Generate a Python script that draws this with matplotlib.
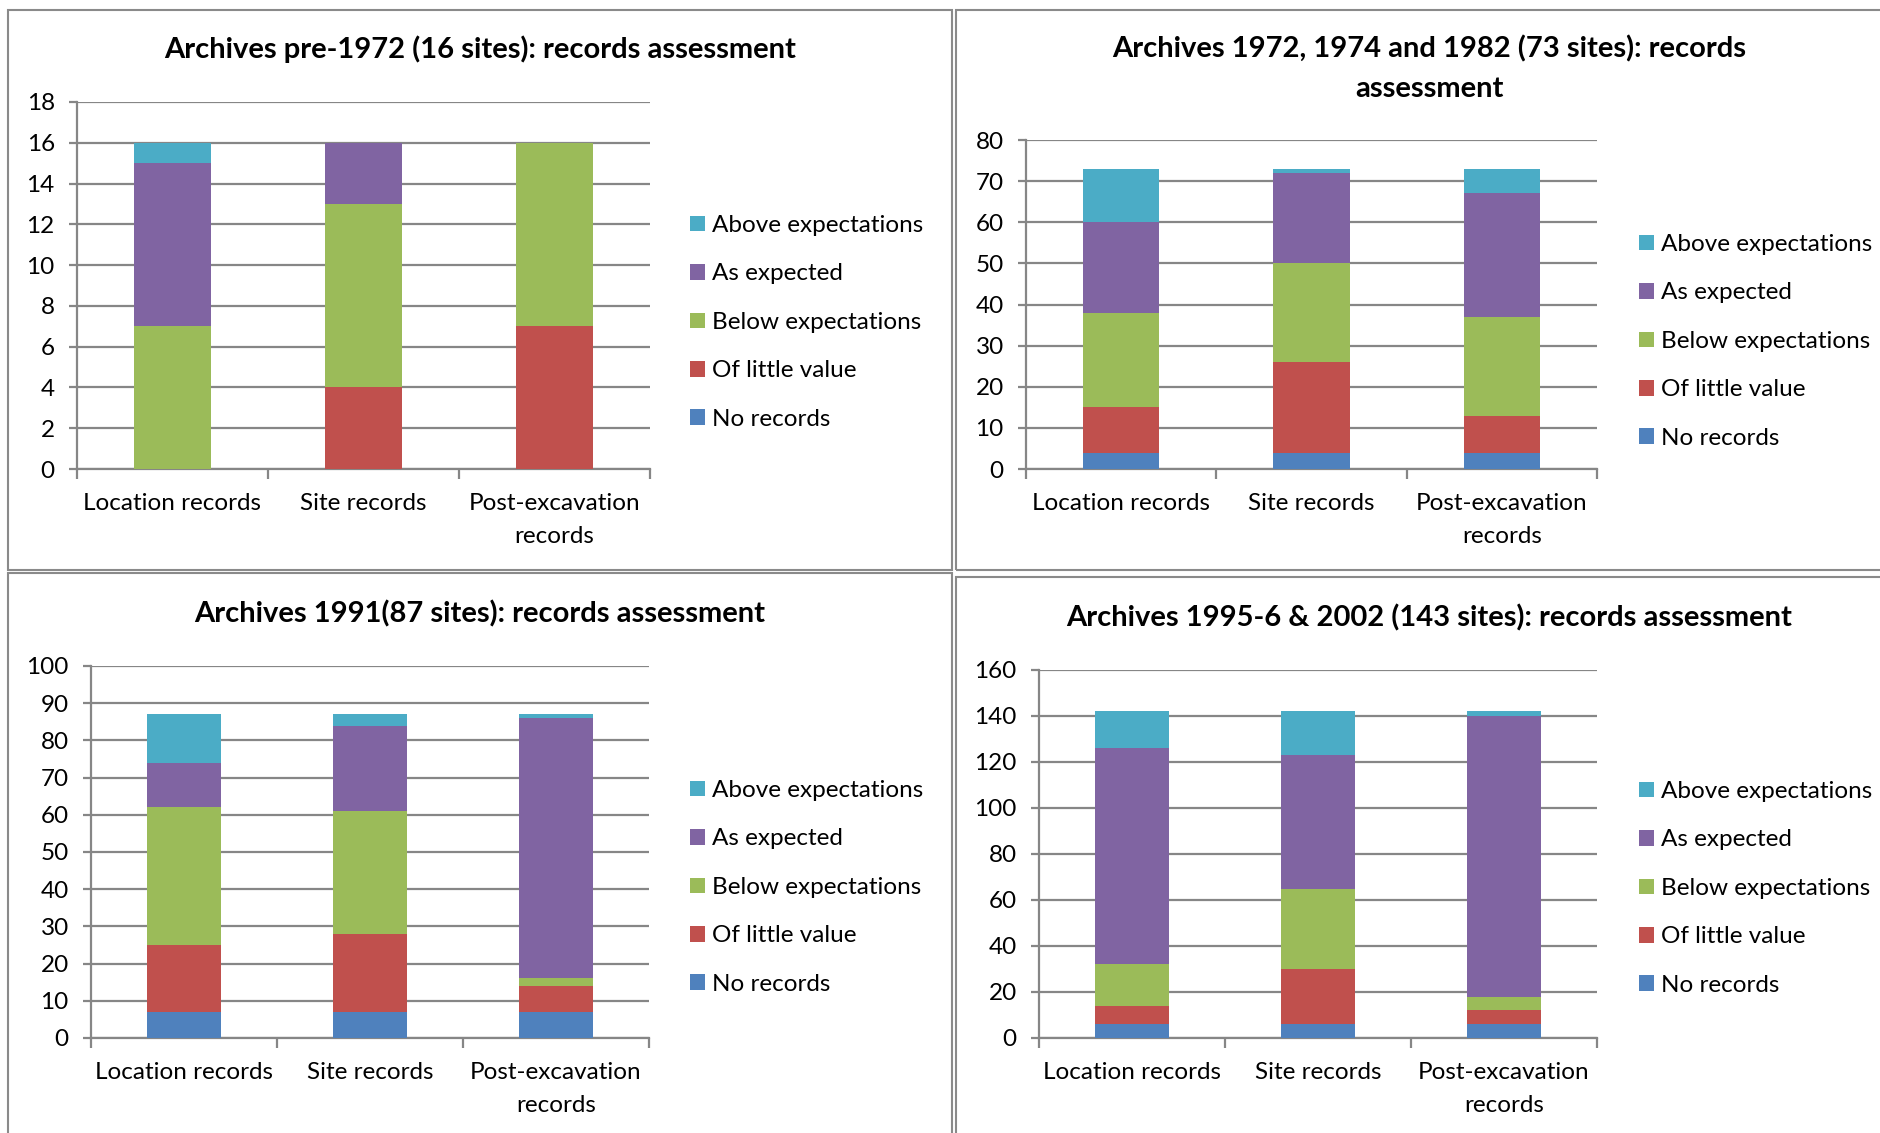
import numpy as np
import matplotlib.pyplot as plt
from matplotlib.patches import Patch, Rectangle

plt.rcParams['font.family'] = ['Lato', 'DejaVu Sans']

W, H = 1881, 1133

categories = ["Location records", "Site records", "Post-excavation\nrecords"]
levels = ["No records", "Of little value", "Below expectations", "As expected", "Above expectations"]
level_colors = ["#4F81BD", "#C0504D", "#9BBB59", "#8064A2", "#4BACC6"]

# rows follow `levels`, columns follow `categories`
pre1972 = [[0, 0, 0], [0, 4, 7], [7, 9, 9], [8, 3, 0], [1, 0, 0]]
arch1972_82 = [[4, 4, 4], [11, 22, 9], [23, 24, 24], [22, 22, 30], [13, 1, 6]]
arch1991 = [[7, 7, 7], [18, 21, 7], [37, 33, 2], [12, 23, 70], [13, 3, 1]]
arch1995_2002 = [[6, 6, 6], [8, 24, 6], [18, 35, 6], [94, 58, 122], [16, 19, 2]]

titles = [
    "Archives pre-1972 (16 sites): records assessment",
    "Archives 1972, 1974 and 1982 (73 sites): records\nassessment",
    "Archives 1991(87 sites): records assessment",
    "Archives 1995-6 & 2002 (143 sites): records assessment",
]
y_max = [18, 80, 100, 160]
y_step = [2, 10, 10, 20]

# pixel layout: axes box (left, right, top, bottom), title centre, legend top-left
axes_px = [(77, 650, 102, 469), (1026, 1597, 140, 469), (91, 649, 666, 1038), (1039, 1597, 670, 1038)]
title_px = [(480, 49), (1429, 69), (480, 614), (1429, 618)]
legend_px = [(690, 215), (1639, 234), (690, 780), (1639, 781)]
panel_px = [(8, 10, 944, 560), (956, 10, 940, 560), (8, 573, 944, 575), (956, 577, 940, 575)]

grid_col = "#868686"
fs = 17.5

fig = plt.figure(figsize=(W / 100, H / 100), dpi=100)

for (x, y, w, h) in panel_px:
    fig.patches.append(Rectangle((x / W, 1 - (y + h) / H), w / W, h / H, transform=fig.transFigure,
                                 fill=False, edgecolor="#8a8a8a", lw=1.5))

datasets = [pre1972, arch1972_82, arch1991, arch1995_2002]
for i, data in enumerate(datasets):
    l, r, t, b = axes_px[i]
    ax = fig.add_axes([l / W, 1 - b / H, (r - l) / W, (b - t) / H])
    x = np.arange(len(categories))
    bottom = np.zeros(len(categories))
    for lev, col, vals in zip(levels, level_colors, data):
        ax.bar(x, vals, width=0.4, bottom=bottom, color=col, label=lev, zorder=3)
        bottom += np.array(vals)

    ax.set_xlim(-0.5, 2.5)
    ax.set_ylim(0, y_max[i])
    ax.set_yticks(np.arange(0, y_max[i] + 1, y_step[i]))
    ax.yaxis.grid(True, color=grid_col, lw=1.6, zorder=0)
    ax.set_axisbelow(True)
    for s in ["top", "right"]:
        ax.spines[s].set_visible(False)
    for s in ["left", "bottom"]:
        ax.spines[s].set_color(grid_col)
        ax.spines[s].set_linewidth(1.6)
    ax.set_xticks([-0.5, 0.5, 1.5, 2.5])
    ax.set_xticklabels([])
    ax.set_xticks(x, minor=True)
    ax.set_xticklabels(categories, minor=True, fontsize=fs, linespacing=1.72)
    ax.tick_params(axis="x", which="major", length=7, width=1.6, color=grid_col)
    ax.tick_params(axis="x", which="minor", length=0, pad=17)
    ax.tick_params(axis="y", length=6, width=1.6, color=grid_col, labelsize=fs, pad=10)

    handles = [Patch(facecolor=c, label=lv) for lv, c in zip(levels, level_colors)][::-1]
    lx, ly = legend_px[i]
    ax.legend(handles=handles, loc="upper left", bbox_to_anchor=(lx / W, 1 - ly / H),
              bbox_transform=fig.transFigure, frameon=False, fontsize=fs,
              handlelength=0.62, handleheight=0.62, handletextpad=0.3,
              labelspacing=1.13, borderpad=0, borderaxespad=0)

    tx, ty = title_px[i]
    fig.text(tx / W, 1 - ty / H, titles[i], ha="center", va="center",
             fontsize=21, fontweight="bold", linespacing=1.65)

fig.savefig("out.png", dpi=100)
